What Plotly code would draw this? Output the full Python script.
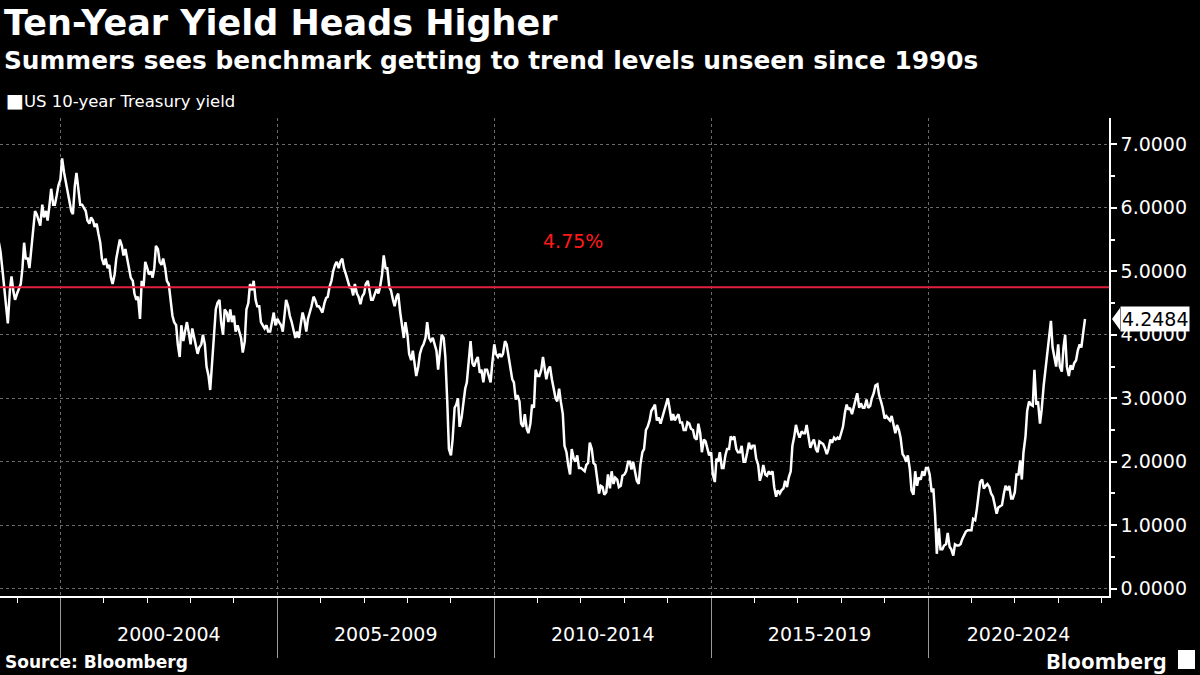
import plotly.graph_objects as go
import pandas as pd

# ---------------- data (semi-monthly readings: 1st and 15th of each month) ----------------
y1998 = [5.45, 5.30, 5.00, 4.72, 4.45, 4.18, 4.70, 4.92, 4.68, 4.55]
y1999 = [4.65, 4.72, 4.80, 5.05, 5.45, 5.20, 5.20, 5.05, 5.35, 5.55, 5.95, 5.90,
         5.78, 5.72, 6.05, 5.85, 5.95, 5.80, 6.05, 6.30, 6.05, 6.05, 6.20, 6.35]
y2000 = [6.45, 6.78, 6.55, 6.40, 6.30, 6.15, 5.95, 5.90, 6.35, 6.55, 6.25, 6.05,
         6.05, 6.00, 5.95, 5.80, 5.75, 5.85, 5.80, 5.70, 5.75, 5.60, 5.45, 5.20]
y2001 = [5.10, 5.20, 5.05, 5.10, 4.90, 4.80, 4.95, 5.20, 5.35, 5.50, 5.40, 5.25,
         5.35, 5.20, 5.05, 4.90, 4.85, 4.65, 4.55, 4.60, 4.25, 4.85, 4.75, 5.15]
y2002 = [5.05, 4.95, 5.00, 4.90, 5.05, 5.40, 5.35, 5.15, 5.10, 5.20, 5.05, 4.85,
         4.80, 4.55, 4.30, 4.20, 4.15, 3.85, 3.65, 4.15, 3.90, 4.05, 4.20, 4.05]
y2003 = [3.85, 4.10, 3.95, 3.85, 3.70, 3.80, 3.85, 4.00, 3.85, 3.50, 3.35, 3.13,
         3.55, 3.95, 4.40, 4.50, 4.55, 4.20, 4.00, 4.40, 4.35, 4.20, 4.40, 4.20]
y2004 = [4.30, 4.05, 4.15, 4.05, 3.95, 3.72, 3.90, 4.40, 4.50, 4.80, 4.70, 4.85,
         4.55, 4.45, 4.45, 4.20, 4.15, 4.10, 4.15, 4.05, 4.05, 4.20, 4.35, 4.15]
y2005 = [4.25, 4.20, 4.15, 4.05, 4.35, 4.55, 4.45, 4.30, 4.20, 4.10, 3.95, 4.05,
         3.95, 4.15, 4.35, 4.25, 4.05, 4.25, 4.35, 4.45, 4.60, 4.55, 4.45, 4.45]
y2006 = [4.40, 4.35, 4.50, 4.58, 4.60, 4.75, 4.85, 5.00, 5.10, 5.15, 5.05, 5.15,
         5.20, 5.05, 4.95, 4.85, 4.75, 4.75, 4.62, 4.80, 4.65, 4.60, 4.48, 4.60]
y2007 = [4.65, 4.80, 4.85, 4.70, 4.55, 4.55, 4.65, 4.72, 4.65, 4.75, 4.95, 5.25,
         5.05, 5.05, 4.75, 4.70, 4.55, 4.45, 4.60, 4.65, 4.35, 4.15, 3.95, 4.20]
y2008 = [4.00, 3.70, 3.60, 3.75, 3.55, 3.35, 3.50, 3.70, 3.80, 3.85, 3.95, 4.20,
         3.95, 3.90, 3.95, 3.85, 3.75, 3.45, 3.75, 4.00, 3.95, 3.65, 2.95, 2.20]
y2009 = [2.10, 2.35, 2.85, 2.90, 3.00, 2.55, 2.70, 2.90, 3.15, 3.25, 3.65, 3.90,
         3.55, 3.50, 3.60, 3.65, 3.40, 3.45, 3.25, 3.45, 3.45, 3.35, 3.25, 3.55]
y2010 = [3.85, 3.70, 3.65, 3.70, 3.65, 3.70, 3.90, 3.85, 3.65, 3.45, 3.30, 3.25,
         2.98, 3.05, 2.95, 2.60, 2.55, 2.75, 2.52, 2.45, 2.60, 2.90, 2.85, 3.45]
y2011 = [3.35, 3.35, 3.45, 3.65, 3.45, 3.30, 3.45, 3.50, 3.30, 3.15, 3.00, 2.95,
         3.15, 2.95, 2.75, 2.25, 2.15, 1.95, 1.80, 2.20, 2.05, 2.00, 2.10, 1.90]
y2012 = [1.90, 1.88, 1.85, 1.95, 1.98, 2.30, 2.20, 1.98, 1.95, 1.75, 1.50, 1.62,
         1.60, 1.48, 1.52, 1.80, 1.58, 1.85, 1.65, 1.75, 1.72, 1.60, 1.62, 1.78]
y2013 = [1.80, 1.85, 2.00, 2.00, 1.88, 2.00, 1.85, 1.70, 1.65, 1.95, 2.15, 2.20,
         2.50, 2.55, 2.65, 2.80, 2.85, 2.90, 2.65, 2.70, 2.60, 2.70, 2.80, 2.90]
y2014 = [3.00, 2.85, 2.65, 2.75, 2.65, 2.70, 2.75, 2.62, 2.62, 2.50, 2.50, 2.62,
         2.60, 2.52, 2.50, 2.38, 2.35, 2.60, 2.45, 2.15, 2.35, 2.32, 2.22, 2.10]
y2015 = [2.15, 1.80, 1.68, 2.05, 2.00, 2.15, 1.90, 1.90, 2.10, 2.20, 2.20, 2.40,
         2.35, 2.40, 2.20, 2.15, 2.15, 2.25, 2.00, 2.00, 2.15, 2.30, 2.20, 2.25]
y2016 = [2.25, 2.05, 1.95, 1.70, 1.80, 1.95, 1.80, 1.78, 1.85, 1.80, 1.85, 1.60,
         1.45, 1.55, 1.50, 1.55, 1.58, 1.70, 1.60, 1.75, 1.85, 2.25, 2.40, 2.58]
y2017 = [2.45, 2.38, 2.48, 2.45, 2.45, 2.58, 2.38, 2.22, 2.30, 2.35, 2.20, 2.15,
         2.32, 2.30, 2.28, 2.22, 2.12, 2.20, 2.35, 2.30, 2.38, 2.35, 2.38, 2.35]
y2018 = [2.45, 2.55, 2.78, 2.90, 2.82, 2.85, 2.75, 2.85, 2.95, 3.08, 2.85, 2.92,
         2.85, 2.85, 2.98, 2.85, 2.88, 3.00, 3.08, 3.20, 3.22, 3.05, 2.95, 2.85]
y2019 = [2.68, 2.72, 2.68, 2.65, 2.72, 2.58, 2.45, 2.58, 2.50, 2.38, 2.12, 2.08,
         2.00, 2.10, 1.88, 1.55, 1.48, 1.85, 1.62, 1.75, 1.72, 1.85, 1.78, 1.90]
y2020 = [1.90, 1.80, 1.52, 1.58, 1.15, 0.55, 0.95, 0.62, 0.62, 0.68, 0.70, 0.88,
         0.66, 0.62, 0.52, 0.70, 0.68, 0.68, 0.70, 0.78, 0.85, 0.90, 0.92, 0.92]
y2021 = [0.92, 1.10, 1.08, 1.25, 1.45, 1.68, 1.72, 1.58, 1.62, 1.65, 1.60, 1.50,
         1.45, 1.30, 1.18, 1.28, 1.30, 1.32, 1.50, 1.62, 1.55, 1.62, 1.42, 1.42]
y2022 = [1.52, 1.80, 1.80, 2.02, 1.72, 2.15, 2.40, 2.80, 2.95, 2.90, 2.88, 3.45,
         2.90, 2.95, 2.60, 2.82, 3.20, 3.45, 3.75, 4.00, 4.22, 3.80, 3.60, 3.50]
y2023 = [3.85, 3.50, 3.42, 3.80, 4.00, 3.50, 3.35, 3.52, 3.45, 3.55, 3.60, 3.75,
         3.85, 3.80, 4.05, 4.2484]

yields = (y1998 + y1999 + y2000 + y2001 + y2002 + y2003 + y2004 + y2005 + y2006
          + y2007 + y2008 + y2009 + y2010 + y2011 + y2012 + y2013 + y2014 + y2015
          + y2016 + y2017 + y2018 + y2019 + y2020 + y2021 + y2022 + y2023)
dates = pd.date_range("1998-08-01", periods=len(yields), freq="SMS")

period_labels = ["2000-2004", "2005-2009", "2010-2014", "2015-2019", "2020-2024"]
period_starts = ["2000-01-01", "2005-01-01", "2010-01-01", "2015-01-01", "2020-01-01"]
label_centers = ["2002-07-02", "2007-07-02", "2012-07-02", "2017-07-02", "2022-02-01"]
y_ticks = [0, 1, 2, 3, 4, 5, 6, 7]

level = 4.75
level_label = "4.75%"
level_label_pos = ("2011-10-25", 5.47)

x_range = ["1998-08-10", "2024-03-04"]
y_range = [-0.115, 7.415]

# ---------------- figure ----------------
W, H = 1200, 675
M_L, M_R, M_T, M_B = 0, 91, 118, 79
PLOT_H = H - M_T - M_B
PLOT_W = W - M_L - M_R


def py(ypx):
    return (H - M_B - ypx) / PLOT_H


FONT = "DejaVu Sans"
LOGOFONT = "Noto Sans"
RED = "#e3203f"

fig = go.Figure()

fig.add_trace(go.Scatter(
    x=dates, y=yields, mode="lines",
    line=dict(color="white", width=2.5),
    name="US 10-year Treasury yield", showlegend=False, hoverinfo="x+y"))

fig.add_trace(go.Scatter(
    x=x_range, y=[level, level], mode="lines", xaxis="x2",
    line=dict(color=RED, width=2), showlegend=False, hoverinfo="skip"))

last_val = yields[-1]
unit_px = PLOT_H / (y_range[1] - y_range[0])
half = 11 / unit_px
tip = 1 + 3 / PLOT_W
base = 1 + 11 / PLOT_W

fig.add_shape(type="path", xref="paper", yref="y",
              path=f"M {tip},{last_val} L {base},{last_val + half} L {base},{last_val - half} Z",
              fillcolor="white", line=dict(width=0), layer="above")

annotations = [
    dict(x=0.002, y=py(23), xref="paper", yref="paper", xanchor="left", yanchor="middle",
         text="<b>Ten-Year Yield Heads Higher</b>", showarrow=False,
         font=dict(family=FONT, size=35, color="white")),
    dict(x=0.002, y=py(61), xref="paper", yref="paper", xanchor="left", yanchor="middle",
         text="<b>Summers sees benchmark getting to trend levels unseen since 1990s</b>",
         showarrow=False, font=dict(family=FONT, size=24.8, color="white")),
    dict(x=0.004, y=py(100), xref="paper", yref="paper", xanchor="left", yanchor="middle",
         text="<span style='font-size:19px'>■</span>US 10-year Treasury yield",
         showarrow=False, font=dict(family=FONT, size=16.5, color="white")),
    dict(x=0.003, y=py(662), xref="paper", yref="paper", xanchor="left", yanchor="middle",
         text="<b>Source: Bloomberg</b>", showarrow=False,
         font=dict(family=FONT, size=17, color="white")),
    dict(x=(1169 - M_L) / PLOT_W, y=py(660), xref="paper", yref="paper", xanchor="right",
         yanchor="middle", text="<b>Bloomberg</b>", showarrow=False,
         font=dict(family=LOGOFONT, size=22, color="white")),
    dict(x=level_label_pos[0], y=level_label_pos[1], xref="x", yref="y",
         text=level_label, showarrow=False,
         font=dict(family=FONT, size=19, color="#ff1a1a")),
    dict(x=base, y=last_val, xref="paper", yref="y", xanchor="left", yanchor="middle",
         text=f"{last_val:.4f}", showarrow=False, bgcolor="white", borderpad=1,
         font=dict(family=FONT, size=19, color="black")),
]

# small Bloomberg glyph box
fig.add_shape(type="rect", xref="paper", yref="paper",
              x0=(1178 - M_L) / PLOT_W, x1=(1195 - M_L) / PLOT_W, y0=py(669), y1=py(650),
              fillcolor="white", line=dict(width=0))

fig.update_layout(
    width=W, height=H,
    margin=dict(l=M_L, r=M_R, t=M_T, b=M_B, pad=0),
    paper_bgcolor="black", plot_bgcolor="black",
    showlegend=False,
    annotations=annotations,
    xaxis=dict(
        type="date", range=x_range,
        tickmode="array", tickvals=period_starts, ticktext=[""] * len(period_starts),
        ticks="outside", ticklen=60, tickwidth=1, tickcolor="#9a9a9a",
        showgrid=True, gridcolor="#6a6a6a", griddash="dot", gridwidth=1,
        showline=True, linecolor="white", linewidth=1.5,
        zeroline=False,
        minor=dict(dtick="M12", tick0="1999-01-01", ticks="outside", ticklen=5,
                   tickcolor="white", showgrid=False),
        fixedrange=True,
    ),
    xaxis2=dict(
        type="date", range=x_range, overlaying="x", anchor="y", side="bottom",
        tickmode="array", tickvals=label_centers, ticktext=period_labels,
        ticks="outside", ticklen=21, tickcolor="rgba(0,0,0,0)",
        tickfont=dict(family=FONT, size=19, color="white"),
        showgrid=False, showline=False, zeroline=False, fixedrange=True,
    ),
    yaxis=dict(
        side="right", range=y_range,
        tickmode="array", tickvals=y_ticks, tickformat=".4f",
        ticks="outside", ticklen=6, tickwidth=1.5, tickcolor="white",
        tickfont=dict(family=FONT, size=19, color="white"),
        showgrid=True, gridcolor="#6a6a6a", griddash="dot", gridwidth=1,
        showline=True, linecolor="white", linewidth=1.5,
        zeroline=False,
        minor=dict(dtick=0.5, tick0=0.5, ticks="outside", ticklen=4,
                   tickcolor="white", showgrid=False),
        fixedrange=True,
    ),
)

fig.write_html("out.html", config={"displayModeBar": False},
               post_script="document.body.style.margin='0';document.body.style.overflow='hidden';")
